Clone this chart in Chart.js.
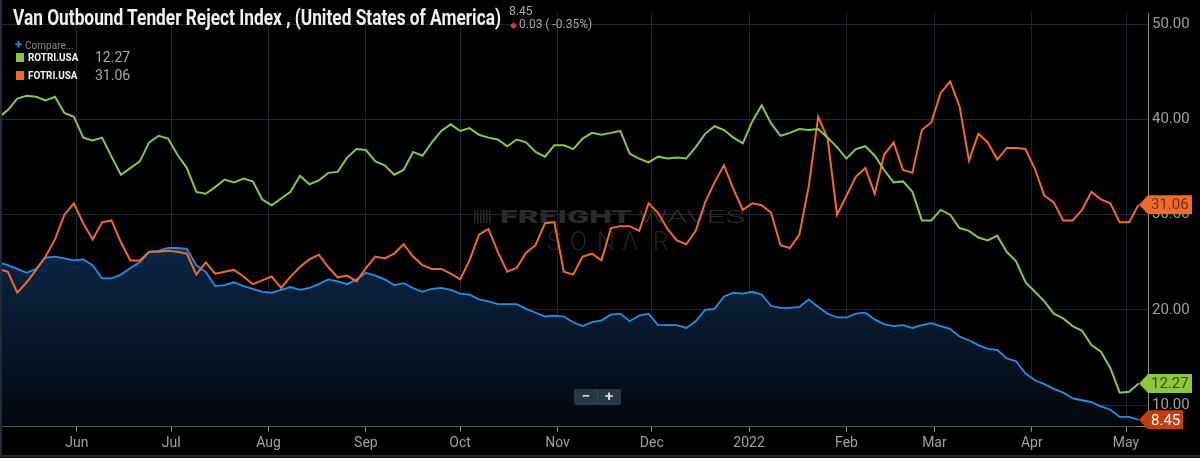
<!DOCTYPE html>
<html>
<head>
<meta charset="utf-8">
<script src="https://cdn.jsdelivr.net/npm/chart.js@4.4.0/dist/chart.umd.min.js"></script>
<style>
  html, body { margin: 0; padding: 0; background: #000; }
  #wrap { position: relative; width: 1200px; height: 458px; overflow: hidden; font-family: Roboto, "Noto Sans", sans-serif; }
  #sales { position: absolute; left: 0; top: 0; }
  .txt { position: absolute; white-space: nowrap; line-height: normal; }
  #title { left: 13px; top: 5px; font-size: 22px; font-weight: 700; color: #f0f0f0; transform-origin: 0 0; }
  #last { left: 509px; top: 4px; font-size: 12px; color: #a8a8a8; }
  #chg { left: 510px; top: 17px; font-size: 12px; color: #a8a8a8; }
  #chg span { color: #e0322a; font-size: 9px; margin-right: 2px; }
  #compare { left: 15px; top: 37px; font-size: 10px; color: #8a8a8a; }
  #compare b { color: #2d8fe6; font-size: 13px; font-weight: 700; margin-right: 3px; }
  .sw { position: absolute; width: 8px; height: 9px; }
  .name { font-size: 11px; font-weight: 700; color: #f2f2f2; transform-origin: 0 0; transform: scaleX(0.9); }
  .val { font-size: 14px; color: #a8a8a8; }
</style>
</head>
<body>
<div id="wrap">
  <canvas id="sales" width="1200" height="458"></canvas>
  <div class="txt" id="title">Van Outbound Tender Reject Index , (United States of America)</div>
  <div class="txt" id="last">8.45</div>
  <div class="txt" id="chg"><span>&#9670;</span>0.03 ( -0.35%)</div>
  <div class="txt" id="compare"><b>+</b>Compare...</div>
  <div class="sw" style="left:16px;top:53px;background:#8dc63f"></div>
  <div class="txt name" style="left:28px;top:51px">ROTRI.USA</div>
  <div class="txt val" style="left:95px;top:49px">12.27</div>
  <div class="sw" style="left:16px;top:71px;background:#f26a2b"></div>
  <div class="txt name" style="left:28px;top:69px">FOTRI.USA</div>
  <div class="txt val" style="left:95px;top:67px">31.06</div>
</div>
<script>
// day 0 = 7 May 2021, one reading every 3 days
var days = [0,3,6,9,12,15,18,21,24,27,30,33,36,39,42,45,48,51,54,57,60,63,
  66,69,72,75,78,81,84,87,90,93,96,99,102,105,108,111,114,117,120,123,126,
  129,132,135,138,141,144,147,150,153,156,159,162,165,168,171,174,177,180,183,186,
  189,192,195,198,201,204,207,210,213,216,219,222,225,228,231,234,237,240,243,246,249,
  252,255,258,261,264,267,270,273,276,279,282,285,288,291,294,297,300,303,306,309,312,
  315,318,321,324,327,330,333,336,339,342,345,348,351,354,357,360,363];

var rotri = [40.2,41.0,42.2,42.5,42.4,42.0,42.4,40.7,40.3,38.1,37.8,38.1,36.1,34.2,34.9,35.6,37.6,38.3,38.0,36.3,34.9,32.4,
  32.2,32.9,33.7,33.4,33.8,33.5,31.6,31.0,31.7,32.4,34.1,33.2,33.6,34.4,34.5,36.0,36.9,36.8,35.6,35.2,34.2,
  34.7,36.6,36.2,37.6,38.8,39.5,38.8,39.1,38.4,38.1,37.9,37.2,37.9,37.6,36.6,36.1,37.3,37.3,36.9,38.0,
  38.6,38.4,38.6,38.8,36.4,35.9,35.5,36.1,35.9,36.0,35.9,37.1,38.5,39.3,38.9,38.1,37.5,39.8,41.5,39.6,38.3,
  38.6,39.0,38.9,39.0,38.1,37.1,35.9,36.9,37.2,36.2,34.7,33.4,33.5,32.4,29.4,29.4,30.5,30.0,28.6,28.3,27.6,
  27.3,27.8,26.1,25.1,22.9,21.9,20.9,19.6,19.1,18.3,17.8,16.3,15.6,13.9,11.3,11.4,12.27];

var fotri = [24.3,24.0,21.8,22.9,24.2,25.6,27.4,30.0,31.2,29.1,27.4,29.2,29.4,27.1,25.2,25.2,26.1,26.1,26.2,26.1,25.9,23.7,
  25.0,23.8,24.0,24.2,23.5,22.7,23.1,23.5,22.3,23.5,24.5,25.3,25.8,24.5,23.4,23.6,23.0,24.4,25.6,25.4,25.9,
  26.9,25.6,24.7,24.3,24.3,23.8,23.2,25.2,27.9,28.5,26.1,24.0,24.4,26.0,26.8,29.1,29.2,24.0,23.7,25.6,
  25.9,25.2,28.6,28.8,28.8,28.3,31.2,30.2,28.5,27.3,26.9,28.3,31.3,33.4,35.2,32.7,30.5,31.2,31.0,30.2,26.8,
  26.5,27.9,33.0,40.3,38.0,30.0,32.0,34.0,34.9,32.2,36.3,37.6,34.7,34.4,38.9,39.7,42.8,44.0,41.4,35.7,38.5,
  37.6,35.8,37.0,37.0,36.9,34.8,32.0,31.3,29.4,29.4,30.5,32.4,31.6,31.2,29.2,29.2,31.06];

var votri = [25.0,24.7,24.3,23.9,24.3,25.5,25.6,25.4,25.2,25.3,24.7,23.3,23.3,23.7,24.4,25.0,26.1,26.2,26.5,26.5,26.4,24.7,
  24.0,22.5,22.6,22.9,22.5,22.2,21.9,21.8,22.1,22.4,22.1,22.3,22.7,23.2,23.0,22.7,23.2,23.9,23.6,23.2,22.6,
  22.8,22.3,21.9,22.2,22.3,22.1,21.7,21.6,21.1,20.9,20.6,20.6,20.6,20.1,19.7,19.3,19.4,19.3,18.7,18.3,
  18.7,18.9,19.5,19.6,18.8,19.4,19.6,18.4,18.4,18.4,18.1,18.8,20.0,20.1,21.4,21.8,21.7,21.9,21.6,20.4,20.2,
  20.2,20.3,21.1,20.3,19.6,19.2,19.2,19.6,19.7,19.0,18.5,18.3,18.4,18.1,18.4,18.6,18.3,18.0,17.2,16.8,16.3,
  15.9,15.8,14.9,14.6,13.3,12.6,12.2,11.7,11.3,10.7,10.5,10.3,9.85,9.5,8.75,8.75,8.45];

var monthDays = [25,55,86,117,147,178,208,239,270,298,329,359];
var monthLabels = ['Jun','Jul','Aug','Sep','Oct','Nov','Dec','2022','Feb','Mar','Apr','May'];
var yTicks = [10,20,30,40,50];

function pts(vals) {
    var out = [];
    for (var i = 0; i < days.length; i++) out.push({x: days[i], y: vals[i]});
    return out;
}

// squeeze the title to the condensed width of the original
var t = document.getElementById('title');
var tw = t.getBoundingClientRect().width;
t.style.transform = 'scaleX(' + (488 / tw) + ')';

function tag(c, y, w, fill, color, text) {
    var h = 19, x0 = 1139, x1 = 1148;
    c.beginPath();
    c.moveTo(x0, y);
    c.lineTo(x1, y - h / 2);
    c.lineTo(x1 + w, y - h / 2);
    c.lineTo(x1 + w, y + h / 2);
    c.lineTo(x1, y + h / 2);
    c.closePath();
    c.fillStyle = fill;
    c.fill();
    c.fillStyle = color;
    c.font = '15px Roboto';
    c.textAlign = 'left';
    c.textBaseline = 'middle';
    c.fillText(text, x1 + 3, y + 1);
}

var extras = {
    id: 'extras',
    beforeDatasetsDraw: function(chart) {
        var c = chart.ctx;
        c.save();
        // watermark
        c.fillStyle = '#2a2a2a';
        for (var i = 0; i < 6; i++) c.fillRect(474 + i * 3, 210, 1.5, 13);
        c.textBaseline = 'alphabetic';
        c.textAlign = 'left';
        c.font = '900 19px Roboto';
        var w = c.measureText('FREIGHT').width;
        c.save(); c.translate(500, 223); c.scale(132 / w, 1); c.fillText('FREIGHT', 0, 0); c.restore();
        c.font = '300 19px Roboto';
        c.fillStyle = '#2e2e2e';
        w = c.measureText('WAVES').width;
        c.save(); c.translate(638, 223); c.scale(107 / w, 1); c.fillText('WAVES', 0, 0); c.restore();
        c.font = '300 25px Roboto';
        c.fillStyle = '#242424';
        var sx = [547, 570, 597, 622, 653], letters = ['S', 'O', 'N', '\u039B', 'R'];
        for (var k = 0; k < letters.length; k++) c.fillText(letters[k], sx[k], 250);
        // dashed last-value line
        var ys = chart.scales.y.getPixelForValue(votri[votri.length - 1]);
        c.strokeStyle = '#7a2a12';
        c.lineWidth = 1;
        c.setLineDash([4, 4]);
        c.beginPath();
        c.moveTo(chart.chartArea.left, ys);
        c.lineTo(1140, ys);
        c.stroke();
        c.restore();
    },
    afterDraw: function(chart) {
        var c = chart.ctx, ys = chart.scales.y;
        c.save();
        // zoom buttons
        c.fillStyle = '#2a3744';
        c.beginPath();
        c.roundRect(574, 389, 47, 16, 2);
        c.fill();
        c.fillStyle = '#d6d6d6';
        c.font = 'bold 15px Roboto';
        c.textAlign = 'center';
        c.textBaseline = 'middle';
        c.fillText('\u2212', 586, 397);
        c.fillText('+', 609, 397);
        c.fillStyle = '#55616c';
        for (var i = 0; i < 4; i++) c.fillRect(597, 391 + i * 3.5, 1, 1.5);
        // last value tags
        tag(c, ys.getPixelForValue(fotri[fotri.length - 1]), 44, '#f06a2c', '#7c2a0c', '31.06');
        tag(c, ys.getPixelForValue(rotri[rotri.length - 1]), 44, '#8dc63f', '#35521a', '12.27');
        tag(c, ys.getPixelForValue(votri[votri.length - 1]), 35, '#c43d0e', '#ffffff', '8.45');
        // frame
        c.strokeStyle = '#1f2b37';
        c.lineWidth = 2;
        c.beginPath();
        c.moveTo(1, 0); c.lineTo(1, 456); c.lineTo(1200, 456);
        c.stroke();
        c.restore();
    }
};

var ctx = document.getElementById('sales');
var chart = new Chart(ctx, {
    type: 'line',
    data: {
        datasets: [{
            label: 'ROTRI.USA',
            data: pts(rotri),
            borderColor: '#8dc63f',
            borderWidth: 2,
            pointRadius: 0,
            fill: false
        }, {
            label: 'FOTRI.USA',
            data: pts(fotri),
            borderColor: '#f26a2b',
            borderWidth: 2,
            pointRadius: 0,
            fill: false
        }, {
            label: 'VOTRI.USA',
            data: pts(votri),
            borderColor: '#2190e8',
            borderWidth: 1.8,
            pointRadius: 0,
            fill: 'start',
            backgroundColor: function(context) {
                var area = context.chart.chartArea;
                if (!area) return 'rgba(10,36,68,0.9)';
                var g = context.chart.ctx.createLinearGradient(0, 240, 0, area.bottom);
                g.addColorStop(0, '#0b2748');
                g.addColorStop(1, '#04070d');
                return g;
            }
        }]
    },
    options: {
        responsive: false,
        animation: false,
        events: [],
        layout: { padding: 0 },
        plugins: { legend: { display: false }, tooltip: { enabled: false }, title: { display: false } },
        scales: {
            x: {
                type: 'linear',
                min: 0.5,
                max: 366,
                afterBuildTicks: function(axis) {
                    axis.ticks = monthDays.map(function(v) { return {value: v}; });
                },
                afterFit: function(axis) { axis.height = 31.3; },
                ticks: {
                    autoSkip: false,
                    maxRotation: 0,
                    padding: 3,
                    color: '#a0a0a0',
                    font: { family: 'Roboto', size: 14 },
                    callback: function(value, index) { return monthLabels[index]; }
                },
                grid: { color: '#1c2733', tickColor: '#8a8a8a', tickLength: 5, lineWidth: 1 },
                border: { color: '#8c8c8c', width: 1 }
            },
            y: {
                position: 'right',
                min: 7.72,
                max: 51.2,
                afterBuildTicks: function(axis) {
                    axis.ticks = yTicks.map(function(v) { return {value: v}; });
                },
                afterFit: function(axis) { axis.width = 52; },
                ticks: {
                    padding: 4,
                    color: '#a0a0a0',
                    font: { family: 'Roboto', size: 15 },
                    callback: function(value) { return value.toFixed(2); }
                },
                grid: { color: '#1c2733', drawTicks: false, lineWidth: 1 },
                border: { color: '#8c8c8c', width: 1 }
            }
        }
    },
    plugins: [extras]
});
</script>
</body>
</html>
